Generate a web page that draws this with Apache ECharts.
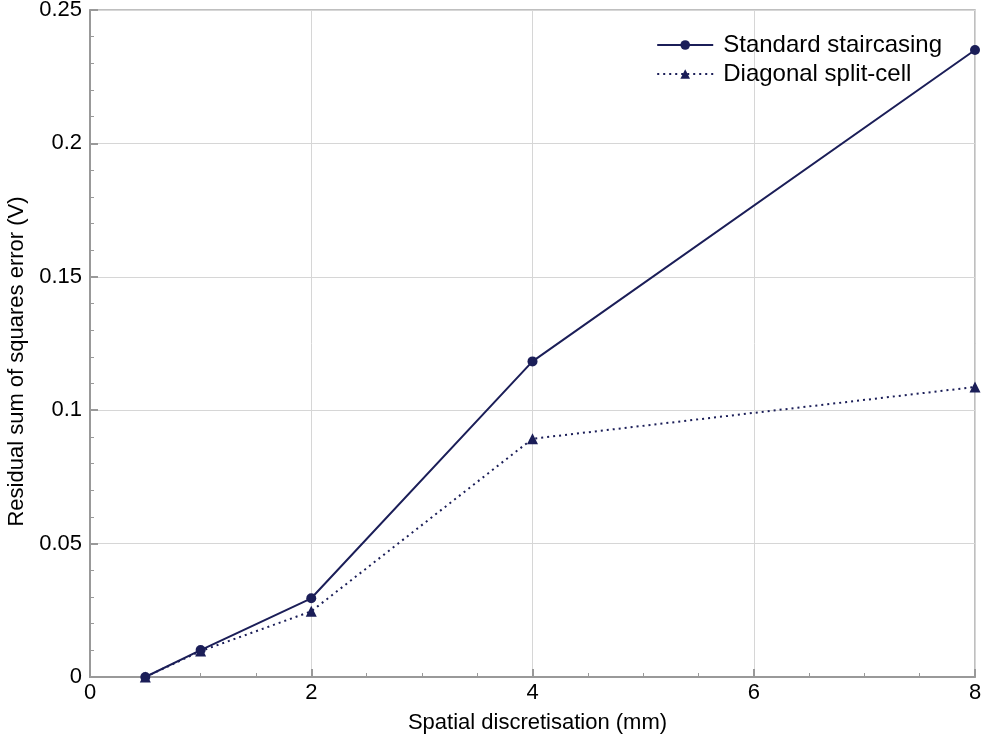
<!DOCTYPE html>
<html><head><meta charset="utf-8">
<script src="https://cdn.jsdelivr.net/npm/echarts@6/dist/echarts.min.js"></script>
<style>html,body{margin:0;padding:0;background:#fff}#c{width:987px;height:744px}</style>
</head><body><div id="c"></div>
<script>
const xValues = [0.5, 1, 2, 4, 8];
const standardStaircasing = [0.0, 0.0101, 0.0295, 0.1183, 0.235];
const diagonalSplitCell = [0.0, 0.0097, 0.0246, 0.0893, 0.1087];
const seriesNames = ['Standard staircasing', 'Diagonal split-cell'];
const xAxisTitle = 'Spatial discretisation (mm)';
const yAxisTitle = 'Residual sum of squares error (V)';

const navy = '#1b1e58';
const font = 'Liberation Sans, Arial, sans-serif';
const chart = echarts.init(document.getElementById('c'));
chart.setOption({
  animation: false,
  textStyle: {fontFamily: font},
  grid: {left: 90, right: 12, top: 10, bottom: 67, show: true, borderColor: '#aaaaaa', borderWidth: 1.5,
         containLabel: false, outerBoundsMode: 'none'},
  legend: {
    orient: 'vertical', right: 40, top: 28, itemWidth: 56, itemHeight: 12, itemGap: 5,
    textStyle: {fontSize: 24, color: '#000', fontFamily: font, padding: [0, 0, 0, 5]},
    data: seriesNames
  },
  xAxis: {
    type: 'value', min: 0, max: 8, interval: 2,
    name: xAxisTitle, nameLocation: 'middle', nameGap: 35,
    nameTextStyle: {fontSize: 22, color: '#000', fontFamily: font, padding: [0, 0, 0, 10]},
    axisLine: {show: true, onZero: false, lineStyle: {color: '#999999', width: 2}},
    axisTick: {show: true, inside: true, length: 8, lineStyle: {color: '#999999', width: 2}},
    minorTick: {show: true, splitNumber: 4, length: 4, lineStyle: {color: '#999999', width: 1}},
    axisLabel: {fontSize: 22, color: '#000', margin: 5, fontFamily: font},
    splitLine: {show: true, lineStyle: {color: '#d6d6d6', width: 1}}
  },
  yAxis: {
    type: 'value', min: 0, max: 0.25, interval: 0.05,
    name: yAxisTitle, nameLocation: 'middle', nameGap: 57,
    nameTextStyle: {fontSize: 22, color: '#000', fontFamily: font, padding: [0, 36, 0, 0]},
    axisLine: {show: true, onZero: false, lineStyle: {color: '#999999', width: 2}},
    axisTick: {show: true, inside: true, length: 8, lineStyle: {color: '#999999', width: 2}},
    minorTick: {show: true, splitNumber: 5, length: 4, lineStyle: {color: '#999999', width: 1}},
    axisLabel: {fontSize: 22, color: '#000', margin: 8, fontFamily: font},
    splitLine: {show: true, lineStyle: {color: '#d6d6d6', width: 1}}
  },
  series: [
    {
      name: seriesNames[0], type: 'line',
      data: xValues.map((x, i) => [x, standardStaircasing[i]]),
      symbol: 'circle', symbolSize: 10,
      lineStyle: {color: navy, width: 2, type: 'solid'},
      itemStyle: {color: navy}
    },
    {
      name: seriesNames[1], type: 'line',
      data: xValues.map((x, i) => [x, diagonalSplitCell[i]]),
      symbol: 'triangle', symbolSize: 11,
      lineStyle: {color: navy, width: 2, type: [2, 4]},
      itemStyle: {color: navy}
    }
  ]
});
</script></body></html>
